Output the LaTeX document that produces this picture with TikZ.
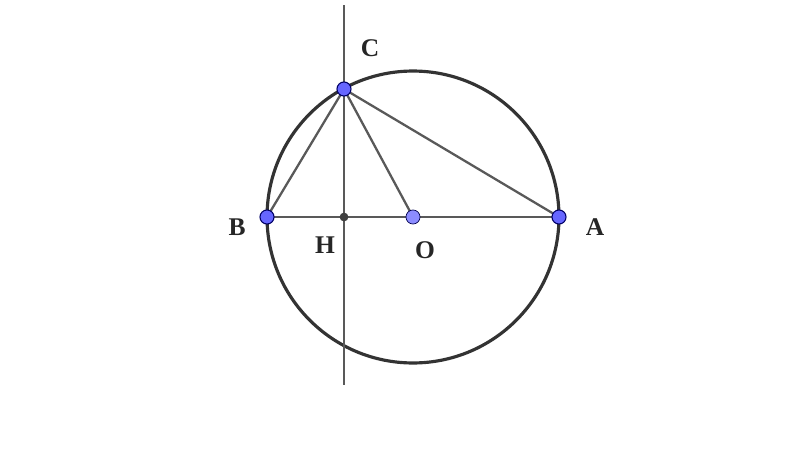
\documentclass[tikz,border=0pt]{standalone}
\usepackage{fontspec}
\setmainfont{Liberation Serif}
\usetikzlibrary{positioning,calc}

\tikzset{
    circleline/.style={line width=1.8pt, draw=black!80},
    segline/.style={line width=1.3pt, draw=black!65},
    bluept/.style={circle, fill=blue!60!white, draw=blue!40!black, line width=0.6pt, minimum size=8pt, inner sep=0pt},
    lightpt/.style={circle, fill=blue!45!white, draw=blue!30!black, line width=0.4pt, minimum size=8pt, inner sep=0pt},
    footpt/.style={circle, fill=black!75, minimum size=5pt, inner sep=0pt},
    lbl/.style={font=\fontsize{14.5}{16}\selectfont\bfseries, text=black!85}
}

\begin{document}
\begin{tikzpicture}[x=0.02cm, y=-0.02cm]
    \useasboundingbox (0,0) rectangle (800,450);

    % Points
    \coordinate (O) at (413,217);
    \coordinate (A) at (559,217);
    \coordinate (B) at (267,217);
    \coordinate (C) at (344,89);
    \coordinate (H) at (344,217);
    \coordinate (top) at (344,5);
    \coordinate (bot) at (344,385);

    % Circle
    \draw[circleline] (O) circle [radius=2.92cm];

    % Perpendicular line
    \draw[segline] (top) -- (bot);

    % Segments
    \draw[segline] (B) -- (A);
    \draw[segline] (C) -- (B);
    \draw[segline] (C) -- (O);
    \draw[segline] (C) -- (A);

    % Dots
    \node[footpt] (h) at (H) {};
    \node[lightpt] (o) at (O) {};
    \node[bluept] (a) at (A) {};
    \node[bluept] (b) at (B) {};
    \node[bluept] (c) at (C) {};

    % Labels
    \node[lbl] (labC) at (370,48) {C};
    \node[lbl] (labB) at (237,227) {B};
    \node[lbl] (labH) at (325,245) {H};
    \node[lbl] (labO) at (425,250) {O};
    \node[lbl] (labA) at (595,227) {A};
\end{tikzpicture}
\end{document}
